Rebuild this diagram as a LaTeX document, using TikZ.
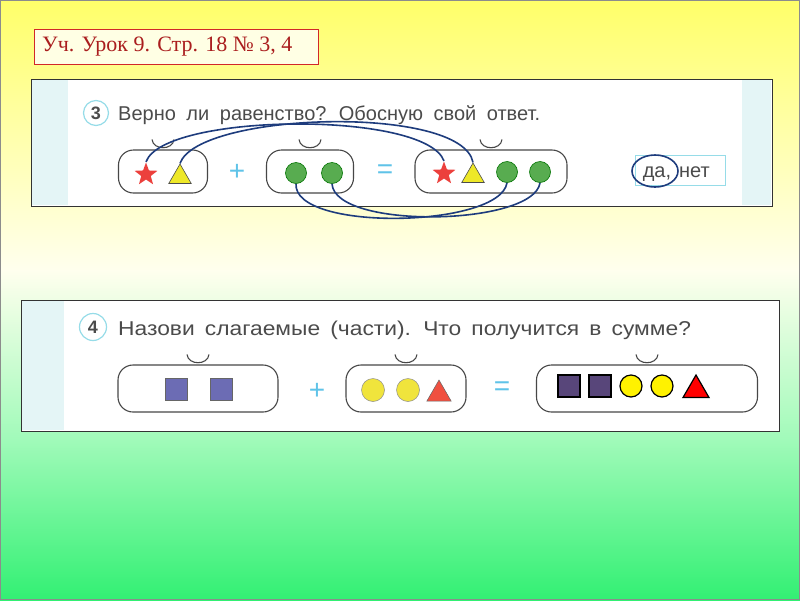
\documentclass[tikz,border=0pt]{standalone}
\usepackage{fontspec}
\setmainfont{Liberation Serif}
\newfontfamily\sansf[WordSpace=1.9]{Liberation Sans}
\newfontfamily\sansfw[WordSpace=1.6, FakeStretch=1.14]{Liberation Sans}
\usetikzlibrary{shapes.geometric}
\definecolor{bgyellow}{RGB}{255,255,105}
\definecolor{bgwhite}{RGB}{255,255,238}
\definecolor{bglgreen}{RGB}{160,250,185}
\definecolor{bggreen}{RGB}{50,240,115}
\definecolor{titlered}{RGB}{170,30,30}
\definecolor{titleborder}{RGB}{210,40,40}
\definecolor{titlefill}{RGB}{255,255,228}
\definecolor{stripcyan}{RGB}{228,245,246}
\definecolor{txtgray}{RGB}{75,75,75}
\definecolor{numcyan}{RGB}{150,220,232}
\definecolor{opblue}{RGB}{95,195,232}
\definecolor{navy}{RGB}{30,60,125}
\definecolor{starred}{RGB}{236,64,60}
\definecolor{triyellow}{RGB}{238,232,40}
\definecolor{dotgreen}{RGB}{88,172,80}
\definecolor{sqblue}{RGB}{108,108,180}
\definecolor{yelldot}{RGB}{240,228,60}
\definecolor{orangered}{RGB}{240,80,64}
\definecolor{sqpurple}{RGB}{88,70,122}
\tikzset{
  panel/.style={draw=black!80, line width=1.2pt, fill=white},
  capsule/.style={draw=black!72, line width=1.1pt, rounded corners=15pt, minimum height=43pt, inner sep=0pt},
  bump/.style={draw=black!72, line width=1.1pt},
  numcircle/.style={circle, draw=numcyan, line width=1.2pt, minimum size=25pt, inner sep=0pt, font=\sansf\bfseries\fontsize{18}{18}\selectfont, text=txtgray},
  qtext/.style={anchor=base west, inner sep=0pt, font=\sansf\fontsize{20}{22}\selectfont, text=txtgray},
  qtextw/.style={anchor=base west, inner sep=0pt, font=\sansfw\fontsize{20}{22}\selectfont, text=txtgray},
  opsign/.style={inner sep=0pt, font=\sansf\fontsize{28}{28}\selectfont, text=opblue},
  redstar/.style={star, star points=5, star point ratio=2.4, minimum size=24pt, inner sep=0pt, fill=starred},
  ytri/.style={regular polygon, regular polygon sides=3, minimum size=26pt, inner sep=0pt, fill=triyellow, draw=black!70, line width=0.6pt},
  gdot/.style={circle, minimum size=21pt, inner sep=0pt, fill=dotgreen, draw=black!55!green, line width=0.6pt},
  bsq/.style={rectangle, minimum size=22pt, inner sep=0pt, fill=sqblue, draw=black!60, line width=0.5pt},
  ydot/.style={circle, minimum size=23pt, inner sep=0pt, fill=yelldot, draw=black!45, line width=0.5pt},
  otri/.style={regular polygon, regular polygon sides=3, minimum size=28pt, inner sep=0pt, fill=orangered, draw=black!60, line width=0.5pt},
  psq/.style={rectangle, minimum size=22pt, inner sep=0pt, fill=sqpurple, draw=black, line width=1.2pt},
  kdot/.style={circle, minimum size=22pt, inner sep=0pt, fill=yellow, draw=black, line width=1.2pt},
  rtri/.style={regular polygon, regular polygon sides=3, minimum size=30pt, inner sep=0pt, fill=red, draw=black, line width=1.2pt},
  link/.style={draw=navy, line width=1.6pt},
}
\begin{document}
\begin{tikzpicture}[x=1pt,y=-1pt]
\useasboundingbox (0,0) rectangle (800,600);
% background
\shade[top color=bgyellow, bottom color=bgwhite] (0,0) rectangle (800,271);
\shade[top color=bgwhite, bottom color=bglgreen] (0,270) rectangle (800,441);
\shade[top color=bglgreen, bottom color=bggreen] (0,440) rectangle (800,600);
\draw[black!45, line width=0.8pt] (0.4,0.4) rectangle (799.6,599.6);
% title
\node[draw=titleborder, line width=1.2pt, fill=titlefill, anchor=north west, minimum width=284pt, minimum height=35pt, inner sep=0pt] (title) at (34,29) {};
\node[anchor=west, inner sep=0pt, text=titlered, font=\fontsize{22}{22}\selectfont] (titletext) at (42,46.5) {Уч. Урок 9. Стр. 18 № 3, 4};
% ---------------- panel 3
\node[panel, anchor=north west, minimum width=741pt, minimum height=127pt, inner sep=0pt] (p3) at (31,79) {};
\fill[stripcyan] (31.6,79.6) rectangle (68,205.4);
\fill[stripcyan] (742,79.6) rectangle (771.4,205.4);
\node[numcircle] (n3) at (96,113) {3};
\node[qtext] (q3) at (118,120) {Верно ли равенство? Обосную свой ответ.};
% capsules
\node[capsule, minimum width=89pt] (c1) at (163,171.5) {};
\node[capsule, minimum width=87pt] (c2) at (310,171.5) {};
\node[capsule, minimum width=152pt] (c3) at (491,171.5) {};
\foreach \c in {c1,c2,c3}{
  \draw[bump] ([shift={(-11,-10)}]\c.north) .. controls ([shift={(-10,1)}]\c.north) and ([shift={(10,1)}]\c.north) .. ([shift={(11,-10)}]\c.north);
}
\node[redstar] (s1) at (146,174.5) {};
\node[ytri] (t1) at (180,177) {};
\node[opsign] (plus3) at (237,172) {+};
\node[gdot] (g1) at (296,173) {};
\node[gdot] (g2) at (332,173) {};
\node[opsign] (eq3) at (385,172) {=};
\node[redstar] (s3) at (444,173.5) {};
\node[ytri] (t3) at (473,176) {};
\node[gdot] (g3) at (507,172) {};
\node[gdot] (g4) at (540,172) {};
% answer box
\node[draw=numcyan, line width=1pt, minimum width=90pt, minimum height=30pt, inner sep=0pt] (ans) at (680,170) {};
\node[inner sep=0pt, anchor=base, font=\sansf\fontsize{20}{20}\selectfont, text=txtgray] (da) at (657,177) {да,};
\node[inner sep=0pt, anchor=base west, font=\sansf\fontsize{20}{20}\selectfont, text=txtgray] (net) at (679,177) {нет};
\node[ellipse, draw=navy, line width=1.6pt, minimum width=46pt, minimum height=32pt, inner sep=0pt] (daring) at (655,171) {};
% links
\draw[link] (s1.north) .. controls (163,113) and (425,110) .. (s3.north);
\draw[link] (t1.corner 1) .. controls (198,112) and (462,104) .. (t3.corner 1);
\draw[link] (g1.south) .. controls (293,232) and (500,228) .. (g3.south);
\draw[link] (g2.south) .. controls (335,230) and (534,226) .. (g4.south);
% ---------------- panel 4
\node[panel, anchor=north west, minimum width=758pt, minimum height=131pt, inner sep=0pt] (p4) at (21,300) {};
\fill[stripcyan] (21.6,300.6) rectangle (64,430.4);
\node[numcircle, minimum size=27pt] (n4) at (93,327) {4};
\node[qtextw] (q4) at (118,335) {Назови слагаемые (части). Что получится в сумме?};
\node[capsule, minimum width=160pt, minimum height=47pt] (d1) at (198,388.5) {};
\node[capsule, minimum width=120pt, minimum height=47pt] (d2) at (406,388.5) {};
\node[capsule, minimum width=221pt, minimum height=47pt] (d3) at (647,388.5) {};
\foreach \c in {d1,d2,d3}{
  \draw[bump] ([shift={(-11,-10)}]\c.north) .. controls ([shift={(-10,1)}]\c.north) and ([shift={(10,1)}]\c.north) .. ([shift={(11,-10)}]\c.north);
}
\node[bsq] (a1) at (176,389) {};
\node[bsq] (a2) at (221,389) {};
\node[opsign] (plus4) at (317,391) {+};
\node[ydot] (b1) at (373,390) {};
\node[ydot] (b2) at (408,390) {};
\node[otri] (b3) at (439,394) {};
\node[opsign] (eq4) at (502,389) {=};
\node[psq] (e1) at (569,386) {};
\node[psq] (e2) at (600,386) {};
\node[kdot] (e3) at (631,386) {};
\node[kdot] (e4) at (662,386) {};
\node[rtri] (e5) at (696,390) {};
\end{tikzpicture}
\end{document}
